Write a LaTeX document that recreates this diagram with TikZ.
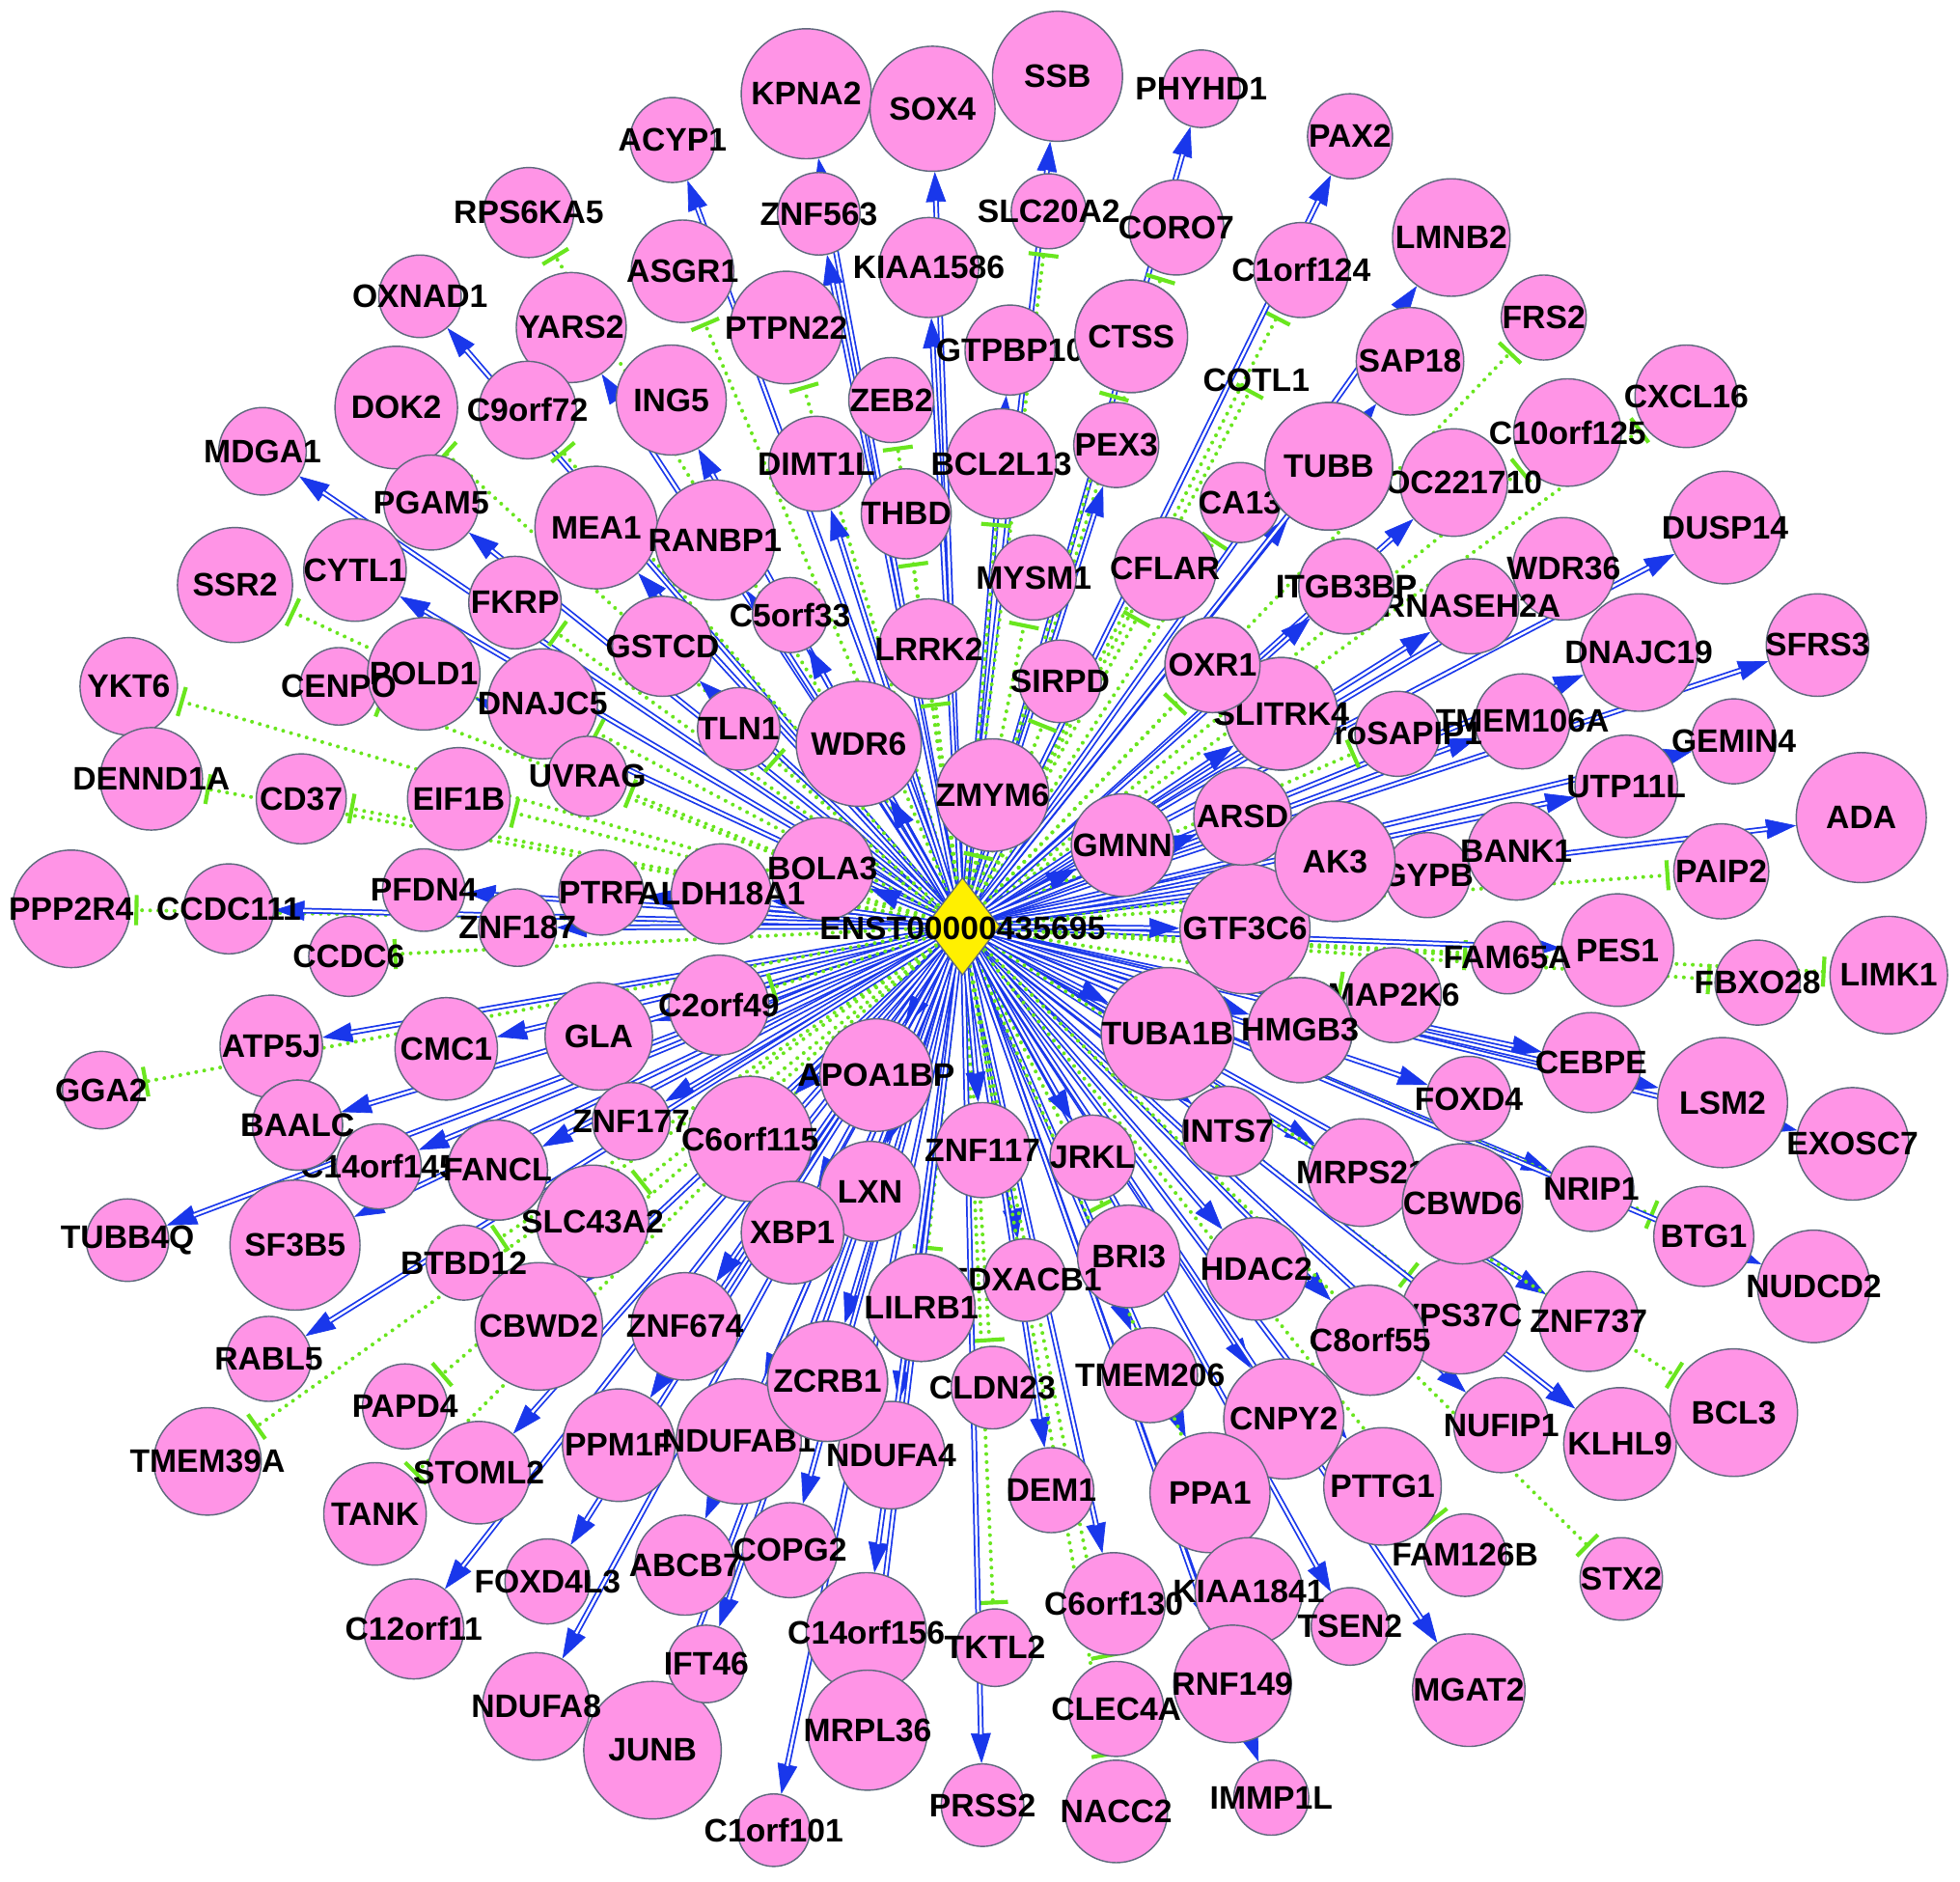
\documentclass[tikz,border=0pt]{standalone}
\usepackage{fontspec}
\setmainfont{Liberation Sans}
\usetikzlibrary{arrows.meta,shapes.geometric}
\pgfdeclarelayer{bg}
\pgfdeclarelayer{edges}
\pgfsetlayers{bg,edges,main}
\definecolor{npink}{RGB}{255,148,230}
\definecolor{nedge}{RGB}{95,105,125}
\definecolor{eblue}{RGB}{25,55,235}
\definecolor{egreen}{RGB}{105,230,30}
\definecolor{hubyel}{RGB}{255,240,0}
\tikzset{
  gene/.style={circle, fill=npink, draw=nedge, line width=1.1pt, inner sep=0pt},
  lab/.style={inner sep=0pt, font=\fontsize{26}{26}\selectfont\bfseries, text=black},
  hubshape/.style={diamond, fill=hubyel, draw=nedge, line width=1pt, minimum width=60pt, minimum height=78pt, inner sep=0pt},
  act/.style={draw=eblue, line width=4.6pt, -{Triangle[length=24pt,width=16pt,line width=0.5pt]},
    postaction={draw=white, line width=1.9pt, shorten >=23pt, -}},
  inh/.style={draw=egreen, line width=3.1pt, dash pattern=on 0pt off 6.5pt, line cap=round,
    shorten >=3pt, -{Bar[width=24pt,line width=3.2pt]}},
}
\def\genelist{ACYP1/538/112/34/A,
RPS6KA5/423/170/36/T,
OXNAD1/336/237/33/A,
YARS2/457/262/44/A,
DOK2/317/326/49/T,
C9orf72/422/328/39/T,
MDGA1/210/361/35/A,
PGAM5/345/402/38/A,
MEA1/477/422/49/A,
SSR2/188/468/46/T,
CYTL1/284/456/41/A,
FKRP/412/482/37/T,
ING5/537/320/44/A,
KPNA2/645/75/52/A,
SOX4/746/87/50/A,
SSB/846/61/52/A,
PHYHD1/961/71/31/A,
ZNF563/655/171/33/A,
KIAA1586/743/214/40/A,
SLC20A2/839/169/30/T,
CORO7/941/182/38/T,
C1orf124/1041/216/38/T,
ASGR1/546/217/41/T,
PTPN22/629/262/45/T,
GTPBP10/808/280/36/A,
CTSS/905/269/45/T,
ZEB2/713/320/34/T,
DIMT1L/653/371/38/A,
RANBP1/572/432/48/A,
THBD/725/411/36/T,
BCL2L13/801/371/44/T,
PEX3/893/356/34/A,
CA13/992/402/32/T,
TUBB/1063/373/51/A,
MYSM1/827/462/34/T,
CFLAR/932/455/41/T,
C5orf33/632/492/30/A,
GSTCD/530/517/40/A,
PAX2/1080/109/34/A,
LMNB2/1161/190/47/A,
FRS2/1235/254/34/T,
SAP18/1128/289/43/A,
CXCL16/1349/317/41/T,
C10orf125/1254/346/43/T,
LOC221710/1163/386/43/A,
DUSP14/1380/422/45/A,
WDR36/1251/455/41/A,
ITGB3BP/1077/469/38/A,
RNASEH2A/1177/485/38/A,
DNAJC19/1311/522/47/A,
SFRS3/1454/516/41/A,
ProSAPIP1/1118/587/34/T,
TMEM106A/1218/577/38/A,
GEMIN4/1387/593/34/A,
UTP11L/1301/629/41/A,
ADA/1489/654/52/A,
AK3/1068/689/48/A,
GYPB/1142/700/34/T,
BANK1/1213/681/39/A,
PAIP2/1377/697/38/T,
FAM65A/1206/766/29/T,
PES1/1294/760/45/A,
FBXO28/1406/786/34/T,
LIMK1/1511/780/47/T,
MAP2K6/1115/796/38/T,
HMGB3/1040/824/42/A,
CEBPE/1273/850/40/A,
LSM2/1378/882/52/A,
FOXD4/1175/879/34/A,
EXOSC7/1482/915/45/A,
MRPS21/1089/938/43/A,
CBWD6/1170/963/48/A,
NRIP1/1273/951/34/A,
BTG1/1363/989/40/T,
GTF3C6/996/743/52/A,
SLITRK4/1025/571/45/A,
YKT6/103/549/39/T,
CENPO/271/549/31/T,
POLD1/339/539/45/A,
DNAJC5/434/563/44/T,
UVRAG/470/621/32/T,
DENND1A/121/623/41/T,
CD37/241/639/36/T,
EIF1B/367/639/41/T,
PPP2R4/57/727/47/T,
CCDC111/183/727/36/A,
PFDN4/339/712/33/A,
PTRF/481/714/34/A,
ZNF187/414/742/31/A,
CCDC6/279/765/32/T,
ATP5J/217/837/41/A,
CMC1/357/839/41/A,
GLA/479/829/43/A,
GGA2/81/872/31/T,
BAALC/238/900/36/A,
C14orf145/303/933/34/A,
FANCL/398/936/40/A,
ZNF177/505/897/31/A,
SLC43A2/474/977/45/T,
TUBB4Q/102/992/33/A,
SF3B5/236/996/52/A,
BTBD12/371/1010/30/T,
RABL5/215/1087/34/A,
CBWD2/431/1061/51/A,
PAPD4/324/1125/34/T,
TMEM39A/166/1169/43/T,
STOML2/383/1178/41/A,
PPM1F/495/1156/45/A,
TANK/300/1211/41/T,
FOXD4L3/438/1265/34/A,
C12orf11/331/1303/40/A,
NDUFA8/429/1365/43/A,
JUNB/522/1400/55/A,
ZNF674/548/1061/43/A,
LILRB1/737/1046/43/T,
FDXACB1/820/1024/33/A,
BRI3/903/1005/41/T,
HDAC2/1005/1015/41/A,
ZCRB1/662/1105/48/A,
CLDN23/794/1110/33/T,
TMEM206/920/1100/38/A,
CNPY2/1027/1135/48/A,
NDUFAB1/591/1153/50/A,
NDUFA4/713/1164/43/A,
DEM1/841/1192/34/A,
PPA1/968/1194/48/A,
ABCB7/548/1252/40/A,
COPG2/632/1240/38/A,
C6orf130/891/1283/41/A,
KIAA1841/999/1273/43/T,
C14orf156/693/1306/48/A,
TKTL2/796/1318/31/T,
IFT46/565/1331/31/A,
RNF149/986/1347/47/A,
CLEC4A/893/1367/38/T,
MRPL36/694/1384/48/A,
PRSS2/786/1444/33/A,
NACC2/893/1449/41/T,
IMMP1L/1017/1438/30/A,
C1orf101/619/1464/29/A,
VPS37C/1168/1052/47/T,
C8orf55/1096/1072/44/A,
ZNF737/1271/1057/40/A,
NUDCD2/1451/1029/45/A,
NUFIP1/1201/1140/38/A,
KLHL9/1296/1155/45/A,
BCL3/1387/1130/51/T,
PTTG1/1106/1189/47/A,
FAM126B/1172/1244/33/T,
STX2/1297/1263/33/T,
TSEN2/1080/1301/31/A,
MGAT2/1175/1352/45/A,
TLN1/591/583/33/T,
WDR6/687/595/50/A,
LRRK2/743/519/40/T,
SIRPD/848/545/33/T,
OXR1/970/532/38/T,
ZMYM6/794/636/45/T,
GMNN/898/676/41/A,
ARSD/994/653/39/A,
BOLA3/658/695/41/A,
ALDH18A1/577/715/40/A,
C2orf49/575/804/40/T,
TUBA1B/934/827/53/A,
APOA1BP/701/860/45/A,
C6orf115/600/911/50/A,
LXN/696/953/40/A,
ZNF117/786/920/38/A,
JRKL/874/926/34/A,
INTS7/982/905/36/A,
XBP1/634/986/41/A}
\begin{document}
\begin{tikzpicture}[x=1pt,y=-1pt]
\begin{pgfonlayer}{bg}
\fill[white] (0,0) rectangle (1568,1505);
\end{pgfonlayer}
\useasboundingbox (0,0) rectangle (1568,1505);
% circles
\foreach \nm/\xx/\yy/\rr/\ty in \genelist {
  \node[gene, minimum size={2*\rr pt}] (\nm) at (\xx,\yy) {};
}
\node[circle, inner sep=0pt, minimum size=4pt] (COTL1) at (1003,307) {};
% hub
\node[hubshape] (hub) at (770,741) {};
% edges
\begin{pgfonlayer}{edges}
\foreach \nm/\xx/\yy/\rr/\ty in \genelist {
  \if A\ty \draw[act] (hub.center) -- (\nm); \else \draw[inh] (hub.center) -- (\nm); \fi
}
\draw[inh] (hub.center) -- (COTL1);
\end{pgfonlayer}
% labels
\foreach \nm/\xx/\yy/\rr/\ty in \genelist {
  \node[lab] at (\nm) {\nm};
}
\node[lab] at (1005,304) {COTL1};
\node[lab] at (770,743) {ENST00000435695};
% nodes drawn on top of neighbouring labels
\foreach \nm/\rr in {BAALC/36, FANCL/40, TUBB/51, CTSS/45, ITGB3BP/38, SLITRK4/45, OXR1/38,
  LILRB1/43, ZCRB1/48, CBWD6/48, C8orf55/44, AK3/48, HMGB3/42} {
  \node[gene, minimum size={2*\rr pt}] at (\nm) {};
  \node[lab] at (\nm) {\nm};
}
\end{tikzpicture}
\end{document}
